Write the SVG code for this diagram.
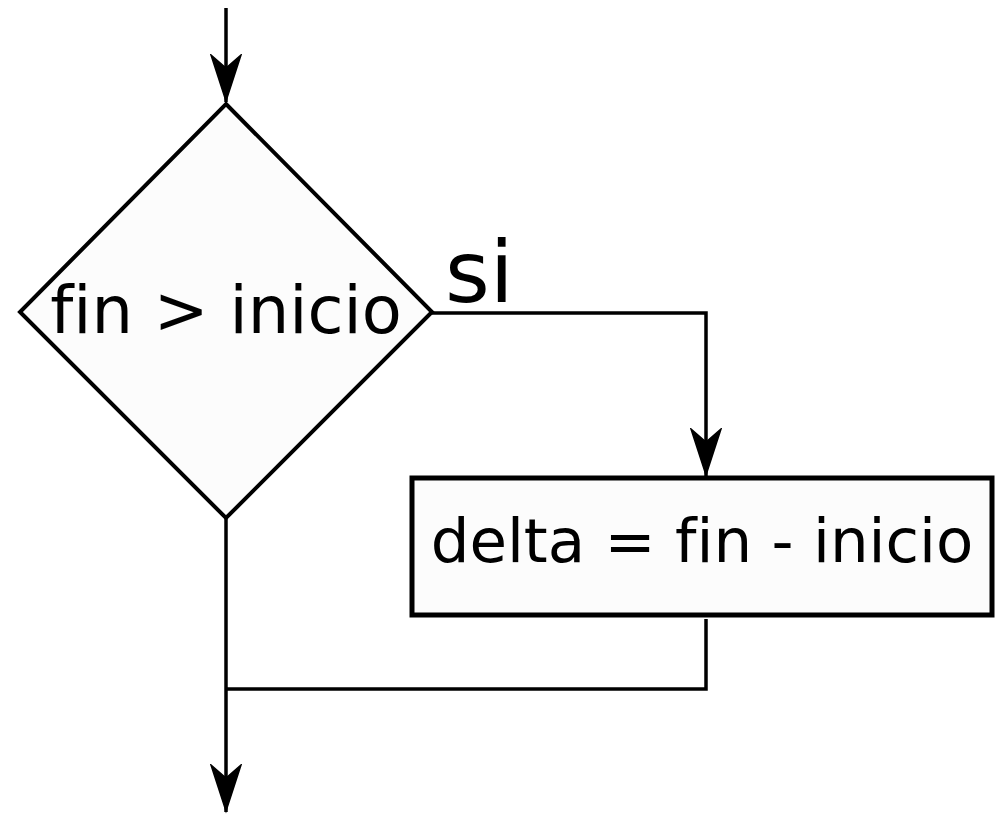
<svg xmlns="http://www.w3.org/2000/svg" width="996" height="814" viewBox="0 0 996 814">
<style>
.shape{fill:#fcfcfc;stroke:#000;stroke-width:4;stroke-linejoin:miter}
.box{fill:#fcfcfc;stroke:#000;stroke-width:5}
.line{fill:none;stroke:#000;stroke-width:3.5}
text{font-family:"DejaVu Sans",sans-serif;fill:#000;font-variant-ligatures:none}
</style>
<defs>
<marker id="arr" viewBox="0 -18 50 36" refX="48" refY="0" markerWidth="50" markerHeight="36" markerUnits="userSpaceOnUse" orient="auto">
<path d="M1,-15 L47,0 L1,15 L14,0 Z" fill="#000" stroke="#000" stroke-width="1.5" stroke-linejoin="miter"/>
</marker>
</defs>
<rect width="996" height="814" fill="#fff"/>
<g id="decision">
<polygon class="shape" points="226,104 432,312 226,518 20,312"/>
<text x="226" y="333" font-size="65.5" text-anchor="middle">fin &gt; inicio</text>
</g>
<g id="process">
<rect class="box" x="412" y="478" width="580" height="137"/>
<text x="702" y="562" font-size="61" text-anchor="middle">delta = fin - inicio</text>
</g>
<g id="connectors">
<line class="line" x1="226" y1="8" x2="226" y2="102" marker-end="url(#arr)"/>
<polyline class="line" points="432,313 706,313 706,476" marker-end="url(#arr)"/>
<polyline class="line" points="706,619 706,689 226,689"/>
<line class="line" x1="226" y1="518" x2="226" y2="812" marker-end="url(#arr)"/>
<text x="445" y="302" font-size="86">si</text>
</g>
</svg>
